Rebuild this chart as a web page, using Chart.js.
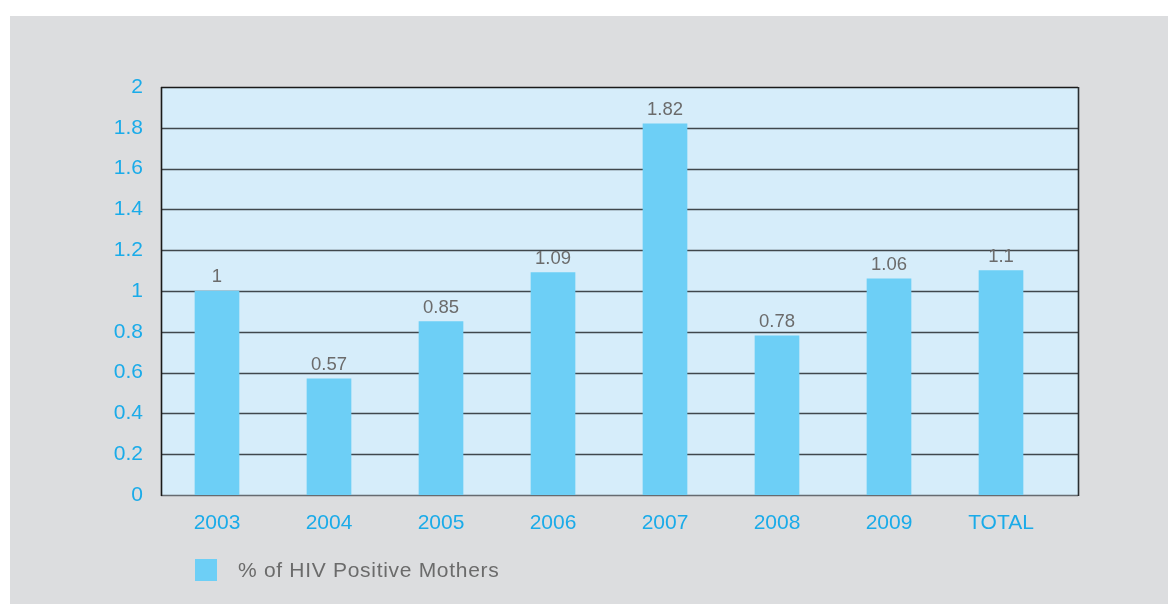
<!DOCTYPE html>
<html>
<head>
<meta charset="utf-8">
<script src="https://cdn.jsdelivr.net/npm/chart.js@4"></script>
<style>
html,body{margin:0;padding:0;background:#fff;}
#wrap{width:1168px;height:604px;position:relative;}
</style>
</head>
<body>
<div id="wrap"><canvas id="c" width="1168" height="604"></canvas></div>
<script>
const categories = ['2003', '2004', '2005', '2006', '2007', '2008', '2009', 'TOTAL'];
const hivPositive = [1, 0.57, 0.85, 1.09, 1.82, 0.78, 1.06, 1.1];
const valueLabels = ['1', '0.57', '0.85', '1.09', '1.82', '0.78', '1.06', '1.1'];
const yTicks = [0, 0.2, 0.4, 0.6, 0.8, 1, 1.2, 1.4, 1.6, 1.8, 2];
const seriesName = '% of HIV Positive Mothers';

const FONT = "'Liberation Sans', Arial, sans-serif";
const EXTRA_RIGHT = 21;

const framePlugin = {
  id: 'frame',
  beforeDraw(chart) {
    const ctx = chart.ctx;
    ctx.save();
    ctx.fillStyle = '#ffffff';
    ctx.fillRect(0, 0, chart.width, chart.height);
    ctx.fillStyle = '#dcdddf';
    ctx.fillRect(10, 16, chart.width - 10, chart.height - 16);
    ctx.restore();
  },
  beforeDatasetsDraw(chart) {
    const ctx = chart.ctx;
    const a = chart.chartArea;
    const y = chart.scales.y;
    const right = a.right + EXTRA_RIGHT;
    ctx.save();
    ctx.fillStyle = '#d6edfa';
    ctx.fillRect(a.left, a.top, right - a.left, a.bottom - a.top);
    ctx.lineWidth = 1.4;
    yTicks.forEach(v => {
      const py = Math.round(y.getPixelForValue(v)) + 0.5;
      ctx.strokeStyle = (v === 0) ? '#666b70' : (v === 2 ? '#1a1a1a' : '#40474c');
      ctx.beginPath();
      ctx.moveTo(a.left, py);
      ctx.lineTo(right, py);
      ctx.stroke();
    });
    ctx.restore();
  },
  afterDatasetsDraw(chart) {
    const ctx = chart.ctx;
    const a = chart.chartArea;
    const right = a.right + EXTRA_RIGHT;
    ctx.save();
    ctx.lineWidth = 1.6;
    ctx.strokeStyle = '#1a1a1a';
    ctx.beginPath();
    ctx.moveTo(a.left + 0.5, a.top);
    ctx.lineTo(a.left + 0.5, a.bottom + 1);
    ctx.stroke();
    ctx.strokeStyle = '#2a2e31';
    ctx.beginPath();
    ctx.moveTo(right + 0.5, a.top);
    ctx.lineTo(right + 0.5, a.bottom + 1);
    ctx.stroke();
    // value labels
    const meta = chart.getDatasetMeta(0);
    ctx.fillStyle = '#6b6b6b';
    ctx.font = '18.5px ' + FONT;
    ctx.textAlign = 'center';
    ctx.textBaseline = 'alphabetic';
    meta.data.forEach((bar, i) => {
      ctx.fillText(valueLabels[i], bar.x, bar.y - 9);
    });
    // legend
    const ds = chart.data.datasets[0];
    ctx.fillStyle = ds.backgroundColor;
    ctx.fillRect(195, 559, 22, 22);
    ctx.fillStyle = '#6b6b6b';
    ctx.font = '21px ' + FONT;
    ctx.letterSpacing = '0.7px';
    ctx.textAlign = 'left';
    ctx.textBaseline = 'middle';
    ctx.fillText(ds.label, 238, 571);
    ctx.restore();
  }
};

new Chart(document.getElementById('c'), {
  type: 'bar',
  data: {
    labels: categories,
    datasets: [{
      label: seriesName,
      data: hivPositive,
      backgroundColor: '#6dcff6',
      borderWidth: 0,
      barThickness: 44
    }]
  },
  options: {
    responsive: false,
    animation: false,
    devicePixelRatio: 1,
    layout: { padding: { top: 87, right: 1168 - 1078 + EXTRA_RIGHT, bottom: 69, left: 0 } },
    plugins: {
      legend: { display: false },
      tooltip: { enabled: false }
    },
    scales: {
      x: {
        grid: { display: false },
        border: { display: false },
        ticks: {
          color: '#1aabe9',
          font: { family: FONT, size: 21 },
          padding: 8,
          maxRotation: 0
        },
        afterFit(s) { s.height = 40; }
      },
      y: {
        min: 0,
        max: 2,
        grid: { display: false },
        border: { display: false },
        afterBuildTicks(s) { s.ticks = yTicks.map(v => ({ value: v })); },
        ticks: {
          color: '#1aabe9',
          font: { family: FONT, size: 21 },
          padding: 10,
          callback: v => String(Math.round(v * 10) / 10)
        },
        afterFit(s) { s.width = 161; }
      }
    }
  },
  plugins: [framePlugin]
});
</script>
</body>
</html>
